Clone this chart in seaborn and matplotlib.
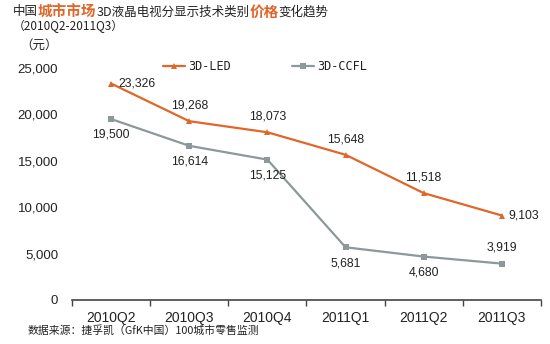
import matplotlib
matplotlib.use("Agg")
import matplotlib.pyplot as plt
import seaborn as sns
import pandas as pd
import numpy as np

categories = ["2010Q2", "2010Q3", "2010Q4", "2011Q1", "2011Q2", "2011Q3"]
led_values = [23326, 19268, 18073, 15648, 11518, 9103]
ccfl_values = [19500, 16614, 15125, 5681, 4680, 3919]
yticks = [0, 5000, 10000, 15000, 20000, 25000]

ORANGE = "#E0662A"
GRAY = "#8E989B"

sns.set_theme(style="white")
plt.rcParams['font.family'] = ['Liberation Sans', 'Noto Sans CJK SC', 'DejaVu Sans']

df = pd.DataFrame({
    "cat": categories * 2,
    "x": list(range(len(categories))) * 2,
    "value": led_values + ccfl_values,
    "series": ["3D-LED"] * len(categories) + ["3D-CCFL"] * len(categories),
})

fig = plt.figure(figsize=(5.5, 3.44), dpi=100)
ax = fig.add_axes([72/550, 1-300/344, (541-72)/550, (300-68)/344])

sns.lineplot(data=df, x="x", y="value", hue="series", style="series",
             palette={"3D-LED": ORANGE, "3D-CCFL": GRAY},
             markers={"3D-LED": "^", "3D-CCFL": "s"}, dashes=False,
             markersize=5, markeredgewidth=0, linewidth=1.6, ax=ax, legend=False)

ax.set_xlim(-0.5, 5.5)
ax.set_ylim(0, 25000)
ax.set_yticks(yticks)
ax.set_yticklabels([f"{v:,}" for v in yticks], fontsize=9.5, color="#222222")
ax.set_xticks(range(len(categories)))
ax.set_xticklabels(categories, fontsize=10, color="#222222")
ax.set_xticks(np.arange(-0.5, 6, 1), minor=True)
ax.tick_params(axis='x', which='major', length=0, pad=8)
ax.tick_params(axis='x', which='minor', length=4, color="#444444", direction='out', width=1, bottom=True)
ax.tick_params(axis='y', length=0, pad=10)
ax.set_xlabel("")
ax.set_ylabel("")
for s in ["left", "right", "top"]:
    ax.spines[s].set_visible(False)
ax.spines["bottom"].set_color("#444444")
ax.spines["bottom"].set_linewidth(1.2)

# data labels (offsets in points)
led_off = [(5, 0, "left", "center"), (0, 7, "center", "bottom"), (0, 7, "center", "bottom"),
           (0, 7, "center", "bottom"), (0, 7, "center", "bottom"), (5, 0, "left", "center")]
ccfl_off = [(0, -7, "center", "top"), (0, -7, "center", "top"), (0, -7, "center", "top"),
            (0, -7, "center", "top"), (0, -7, "center", "top"), (0, 7, "center", "bottom")]
for i, v in enumerate(led_values):
    dx, dy, ha, va = led_off[i]
    ax.annotate(f"{v:,}", (i, v), xytext=(dx, dy), textcoords="offset points",
                ha=ha, va=va, fontsize=8.8, color="#222222")
for i, v in enumerate(ccfl_values):
    dx, dy, ha, va = ccfl_off[i]
    ax.annotate(f"{v:,}", (i, v), xytext=(dx, dy), textcoords="offset points",
                ha=ha, va=va, fontsize=8.8, color="#222222")

# legend drawn manually at top
cjk = ['Noto Sans CJK SC', 'DejaVu Sans']
from matplotlib.lines import Line2D
def legend_item(x0, color, marker, label):
    y = 1 - 66/344
    fig.add_artist(Line2D([x0/550, (x0+22)/550], [y, y], color=color, lw=1.6,
                          transform=fig.transFigure))
    fig.add_artist(Line2D([(x0+11)/550], [y], color=color, marker=marker, ms=5, mew=0,
                          transform=fig.transFigure))
    fig.text((x0+25)/550, y, label, fontsize=8.5, va="center", ha="left",
             family=['DejaVu Sans Mono'], color="#222222")
legend_item(163, ORANGE, "^", "3D-LED")
legend_item(292, GRAY, "s", "3D-CCFL")

# title with coloured parts
parts = [("中国", "#222222", 9, "normal", 0), ("城市市场", ORANGE, 10.5, "bold", 0),
         ("3D液晶电视分显示技术类别", "#222222", 9, "normal", 0), ("价格", ORANGE, 10.5, "bold", 0),
         ("变化趋势", "#222222", 9, "normal", -1)]
fig.canvas.draw()
renderer = fig.canvas.get_renderer()
x = 13
ytitle = 1 - 12/344
for txt, col, fs, fw, adj in parts:
    x += adj
    t = fig.text(x/550, ytitle, txt, fontsize=fs, color=col, fontweight=fw,
                 family=cjk, va="center", ha="left")
    bb = t.get_window_extent(renderer)
    x += bb.width

fig.text(13/550, 1 - 26/344, "（2010Q2-2011Q3）", fontsize=8.5, family=cjk,
         va="center", ha="left", color="#222222")
fig.text(20/550, 1 - 45/344, "（元）", fontsize=9, family=cjk,
         va="center", ha="left", color="#222222")
fig.text(28/550, 1 - 330/344, "数据来源：捷孚凯（GfK中国）100城市零售监测", fontsize=7.8,
         family=cjk, va="center", ha="left", color="#222222")

fig.savefig("out.png", dpi=100)
